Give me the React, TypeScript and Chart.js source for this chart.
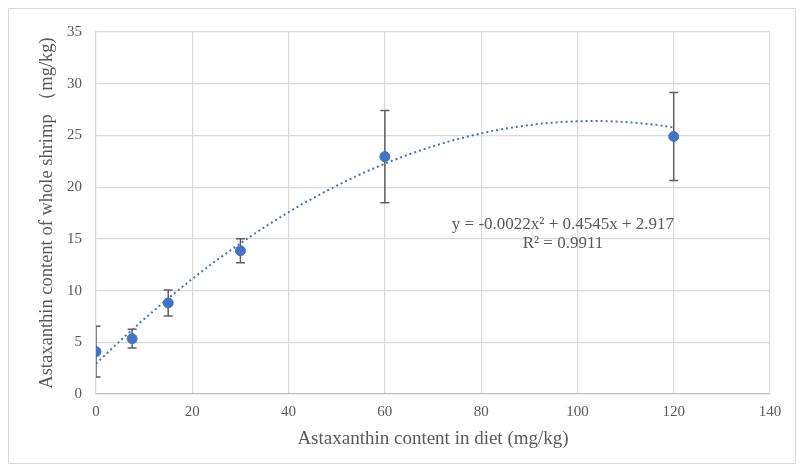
import React, { useEffect, useRef } from "react";
import { Chart, registerables } from "chart.js";

Chart.register(...registerables);

// Dietary astaxanthin (mg/kg) and whole-shrimp content (mg/kg) with SD
const dietLevels = [0, 7.5, 15, 30, 60, 120];
const shrimpContent = [4.1, 5.35, 8.8, 13.85, 22.95, 24.9];
const stdDev = [2.45, 0.9, 1.25, 1.15, 4.45, 4.25];

// Polynomial trendline coefficients (a·x² + b·x + c) and fit quality
const trendCoeffs = [-0.0022, 0.4545, 2.917];
const trendLabel = ["y = -0.0022x² + 0.4545x + 2.917", "R² = 0.9911"];
const trendRange = [0, 120];
const labelAnchor = [97, 16.4];

const xTicks = [0, 20, 40, 60, 80, 100, 120, 140];
const yTicks = [0, 5, 10, 15, 20, 25, 30, 35];

const FONT = "'Liberation Serif', 'Times New Roman', serif";
const TEXT = "#595959";

const trendPoints: { x: number; y: number }[] = [];
for (let x = trendRange[0]; x <= trendRange[1]; x += 1) {
  trendPoints.push({ x, y: trendCoeffs[0] * x * x + trendCoeffs[1] * x + trendCoeffs[2] });
}

const errorBars = {
  id: "errorBars",
  beforeDatasetsDraw(chart: any) {
    const { ctx, chartArea, scales } = chart;
    const xs = scales.x;
    const ys = scales.y;
    ctx.save();
    ctx.beginPath();
    ctx.rect(chartArea.left, chartArea.top, chartArea.right - chartArea.left, chartArea.bottom - chartArea.top);
    ctx.clip();
    ctx.strokeStyle = "#5f5f5f";
    ctx.lineWidth = 1.5;
    dietLevels.forEach((d, i) => {
      const px = xs.getPixelForValue(d);
      const top = ys.getPixelForValue(shrimpContent[i] + stdDev[i]);
      const bot = ys.getPixelForValue(shrimpContent[i] - stdDev[i]);
      ctx.beginPath();
      ctx.moveTo(px, top);
      ctx.lineTo(px, bot);
      ctx.moveTo(px - 4.5, top);
      ctx.lineTo(px + 4.5, top);
      ctx.moveTo(px - 4.5, bot);
      ctx.lineTo(px + 4.5, bot);
      ctx.stroke();
    });
    ctx.restore();
  },
};

const equationLabel = {
  id: "equationLabel",
  afterDatasetsDraw(chart: any) {
    const { ctx, scales } = chart;
    const cx = scales.x.getPixelForValue(labelAnchor[0]);
    const cy = scales.y.getPixelForValue(labelAnchor[1]);
    ctx.save();
    ctx.font = `17px ${FONT}`;
    ctx.fillStyle = TEXT;
    ctx.textAlign = "center";
    ctx.textBaseline = "middle";
    ctx.fillText(trendLabel[0], cx, cy);
    ctx.fillText(trendLabel[1], cx, cy + 18.7);
    ctx.restore();
  },
};

export default function App() {
  const ref = useRef<HTMLCanvasElement>(null);

  useEffect(() => {
    if (!ref.current) return;
    const chart = new Chart(ref.current, {
      type: "scatter",
      data: {
        datasets: [
          {
            label: "Whole shrimp",
            data: dietLevels.map((x, i) => ({ x, y: shrimpContent[i] })),
            backgroundColor: "#4472C4",
            borderColor: "#4472C4",
            pointRadius: 5,
            pointHoverRadius: 5,
            order: 0,
          },
          {
            label: "Poly. trend",
            type: "line",
            data: trendPoints,
            borderColor: "#4472C4",
            borderWidth: 2,
            borderDash: [2, 3],
            pointRadius: 0,
            fill: false,
            tension: 0,
            order: 1,
          } as any,
        ],
      },
      options: {
        animation: false,
        responsive: false,
        layout: { padding: { left: 0, top: 21, right: 25, bottom: 0 } },
        plugins: { legend: { display: false }, tooltip: { enabled: false } },
        scales: {
          x: {
            type: "linear",
            min: 0,
            max: 140,
            afterFit: (s: any) => {
              s.height = 69;
            },
            afterBuildTicks: (s: any) => {
              s.ticks = xTicks.map((v) => ({ value: v }));
            },
            grid: { color: "#d9d9d9", lineWidth: 1.2, drawTicks: false },
            border: { color: "#bfbfbf", width: 1.2 },
            ticks: { color: TEXT, font: { family: FONT, size: 15 }, padding: 9 },
            title: {
              display: true,
              text: "Astaxanthin content in diet (mg/kg)",
              color: TEXT,
              font: { family: FONT, size: 19 },
              padding: { top: 0, bottom: 13 },
            },
          },
          y: {
            type: "linear",
            min: 0,
            max: 35,
            afterFit: (s: any) => {
              s.width = 87;
            },
            afterBuildTicks: (s: any) => {
              s.ticks = yTicks.map((v) => ({ value: v }));
            },
            grid: { color: "#d9d9d9", lineWidth: 1.2, drawTicks: false },
            border: { color: "#d9d9d9", width: 1.2 },
            ticks: { color: TEXT, font: { family: FONT, size: 15 }, padding: 14 },
            title: {
              display: true,
              text: "Astaxanthin content of whole shrimp （mg/kg)",
              color: TEXT,
              font: { family: FONT, size: 18.5 },
              padding: { top: 27, bottom: 0 },
            },
          },
        },
      },
      plugins: [errorBars, equationLabel],
    });
    return () => chart.destroy();
  }, []);

  return (
    <div
      style={{
        width: 788,
        height: 456,
        border: "1px solid #d9d9d9",
        boxSizing: "border-box",
        background: "#fff",
      }}
    >
      <canvas ref={ref} width={786} height={454} style={{ display: "block" }} />
    </div>
  );
}
